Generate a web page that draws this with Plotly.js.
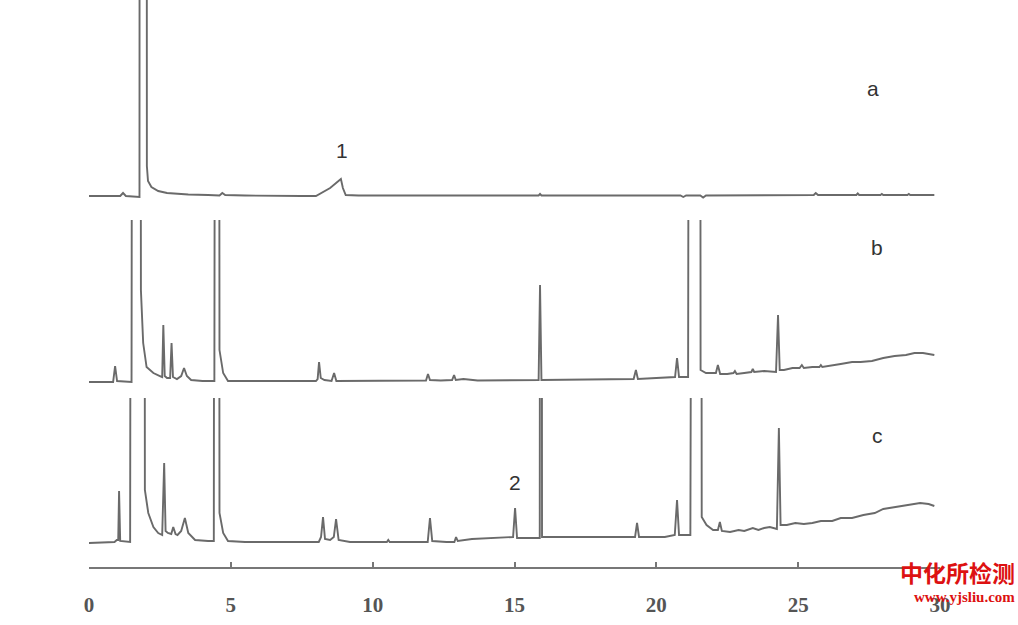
<!DOCTYPE html>
<html>
<head>
<meta charset="utf-8">
<script src="https://cdn.plot.ly/plotly-3.0.1.min.js"></script>
<style>
  html, body { margin: 0; padding: 0; background: #ffffff; }
  #chart { width: 1018px; height: 625px; }
</style>
</head>
<body>
<div id="chart"></div>
<script>
// ---- Data (time in min, detector signal) ----
// Trace a
const timeA = [0, 1.1, 1.2, 1.3, 1.78, 1.80, 1.9, 2.02, 2.04, 2.08, 2.2, 2.44, 2.75, 3.5, 4.2, 4.6, 4.7, 4.8, 5.5, 6.5, 7.5, 8.0, 8.5, 8.88, 8.95, 9.05, 9.5, 12, 15.85, 15.9, 15.95, 18, 20.85, 20.95, 21.05, 21.55, 21.65, 21.75, 24, 25.55, 25.62, 25.7, 27.05, 27.1, 27.15, 27.9, 27.95, 28.0, 28.85, 28.9, 28.95, 29.8];
const signalA = [0, 0, 3, 0, -1, 2000, 2500, 2000, 30, 15, 9, 5, 3, 1.5, 1, 0.5, 3, 1, 0.5, 0, 0, 0, 8, 17, 8, 1, 0.5, 0.5, 0.5, 2, 0.5, 0.5, 0.5, -1, 0.5, 0.5, -1.5, 0.5, 1, 1, 3, 1, 1, 2.5, 1, 1, 2, 1, 1, 2, 1, 1];

// Trace b
const timeB = [0, 0.85, 0.92, 0.99, 1.5, 1.56, 1.68, 1.79, 1.83, 1.91, 2.03, 2.27, 2.5, 2.58, 2.62, 2.67, 2.75, 2.86, 2.91, 2.96, 3.1, 3.25, 3.35, 3.45, 3.6, 4.0, 4.42, 4.47, 4.51, 4.56, 4.6, 4.73, 4.9, 5.5, 8.0, 8.06, 8.11, 8.17, 8.3, 8.55, 8.64, 8.72, 9.5, 11.88, 11.95, 12.02, 12.4, 12.8, 12.87, 12.93, 13.2, 13.7, 15.85, 15.9, 15.95, 18.0, 19.2, 19.28, 19.35, 20.0, 20.66, 20.73, 20.8, 21.12, 21.2, 21.36, 21.52, 21.56, 21.75, 22.0, 22.1, 22.17, 22.25, 22.5, 22.72, 22.77, 22.83, 23.1, 23.35, 23.4, 23.45, 23.8, 24.22, 24.29, 24.35, 24.5, 24.8, 25.05, 25.13, 25.2, 25.5, 25.75, 25.8, 25.85, 26.2, 26.5, 26.9, 27.2, 27.6, 28.0, 28.4, 28.8, 29.1, 29.4, 29.8];
const signalB = [0, 0, 16, 1, 0, 1500, 2000, 1500, 92, 39, 15, 9, 6, 5, 57, 6, 4, 4, 39, 5, 3, 6, 14, 6, 2, 1, 1, 1500, 2000, 1500, 32, 9, 1, 1, 1, 3, 20, 4, 2, 1, 9, 1, 1, 1.5, 8, 2, 1.5, 2, 7, 2, 3, 1.5, 2, 97, 2, 3, 3, 12, 3, 4, 5, 24, 5, 5, 1500, 2000, 1500, 12, 9, 9, 9, 17, 8, 8, 9, 11, 8, 9, 10, 13, 10, 11, 10, 67, 12, 12, 14, 14, 17, 14, 15, 15, 17, 15, 17, 18, 20, 20, 21, 24, 26, 27, 29, 29, 27];

// Trace c
const timeC = [0, 0.9, 0.98, 1.03, 1.06, 1.1, 1.45, 1.52, 1.72, 1.93, 1.97, 2.09, 2.27, 2.44, 2.58, 2.65, 2.7, 2.78, 2.9, 2.97, 3.05, 3.12, 3.25, 3.38, 3.5, 3.74, 4.2, 4.4, 4.45, 4.5, 4.56, 4.6, 4.73, 4.9, 5.5, 8.1, 8.18, 8.25, 8.32, 8.5, 8.63, 8.71, 8.8, 9.2, 10.5, 10.55, 10.6, 11.94, 12.02, 12.1, 12.6, 12.88, 12.94, 13.0, 13.5, 14.5, 14.95, 15.02, 15.09, 15.4, 15.89, 15.93, 15.97, 17.0, 18.0, 19.25, 19.32, 19.39, 20.3, 20.65, 20.73, 20.8, 21.2, 21.29, 21.43, 21.57, 21.6, 21.77, 22.0, 22.17, 22.24, 22.31, 22.6, 22.9, 23.1, 23.4, 23.6, 23.8, 24.0, 24.25, 24.32, 24.38, 24.6, 24.9, 25.2, 25.5, 25.8, 26.2, 26.5, 26.9, 27.3, 27.7, 28.0, 28.4, 28.8, 29.1, 29.3, 29.6, 29.8];
const signalC = [0, 1, 3, 3, 52, 2, 1, 1500, 2000, 1500, 53, 30, 16, 10, 8, 80, 12, 10, 9, 16, 9, 8, 12, 25, 10, 3, 2, 2, 1500, 2000, 1500, 30, 10, 2, 1, 1, 6, 26, 4, 3, 6, 24, 3, 1, 1, 3, 1, 1, 25, 2, 1, 1, 6, 2, 4, 5, 6, 35, 5, 5, 5, 2000, 6, 6, 6, 6, 20, 6, 6, 8, 43, 8, 8, 1000, 1500, 1000, 26, 18, 13, 13, 21, 12, 11, 13, 12, 15, 13, 15, 16, 14, 115, 18, 18, 20, 19, 20, 22, 22, 25, 25, 28, 30, 34, 36, 38, 39, 40, 39, 37];

const xTicks = [0, 5, 10, 15, 20, 25, 30];
const xTickText = ['0', '5', '10', '15', '20', '25', '30'];
const traceLabels = ['a', 'b', 'c'];
const peakLabels = ['1', '2'];
const peakTimes = [8.92, 15.02];

// ---- Plot ----
const lineStyle = { color: '#6a6a6a', width: 1.9 };
const traces = [
  { x: timeA, y: signalA, xaxis: 'x', yaxis: 'y3', mode: 'lines', line: lineStyle, hoverinfo: 'skip' },
  { x: timeB, y: signalB, xaxis: 'x', yaxis: 'y2', mode: 'lines', line: lineStyle, hoverinfo: 'skip' },
  { x: timeC, y: signalC, xaxis: 'x', yaxis: 'y',  mode: 'lines', line: lineStyle, hoverinfo: 'skip' }
];

const hiddenY = { visible: false, fixedrange: true };
const labelFont = { family: 'Liberation Sans, Arial, sans-serif', size: 21, color: '#333333' };

const layout = {
  width: 1018, height: 625,
  margin: { l: 89, r: 78, t: 0, b: 58 },
  paper_bgcolor: '#ffffff', plot_bgcolor: '#ffffff',
  showlegend: false,
  xaxis: {
    range: [0, 30], anchor: 'y',
    showgrid: false, zeroline: false,
    showline: true, linecolor: '#777777', linewidth: 2,
    ticks: 'inside', ticklen: 5, tickwidth: 2, tickcolor: '#777777',
    tickvals: xTicks, ticktext: xTickText,
    ticklabelstandoff: 18,
    tickfont: { family: 'Liberation Serif, serif', size: 21, color: '#555555', weight: 'bold' }
  },
  yaxis:  Object.assign({ domain: [0, 0.298], range: [-24, 145] }, hiddenY),
  yaxis2: Object.assign({ domain: [0.298, 0.612], range: [-16, 162] }, hiddenY),
  yaxis3: Object.assign({ domain: [0.612, 1], range: [-24, 196] }, hiddenY),
  annotations: [
    { text: traceLabels[0], x: 27.63, y: 108, xref: 'x', yref: 'y3', showarrow: false, font: labelFont },
    { text: traceLabels[1], x: 27.78, y: 135, xref: 'x', yref: 'y2', showarrow: false, font: labelFont },
    { text: traceLabels[2], x: 27.78, y: 108, xref: 'x', yref: 'y',  showarrow: false, font: labelFont },
    { text: peakLabels[0], x: peakTimes[0], y: 46, xref: 'x', yref: 'y3', showarrow: false, font: labelFont },
    { text: peakLabels[1], x: peakTimes[1], y: 61, xref: 'x', yref: 'y',  showarrow: false, font: labelFont },
    { text: '中化所检测', x: 1.0905, y: -0.009, xref: 'paper', yref: 'paper', xanchor: 'right', yanchor: 'middle', showarrow: false,
      font: { family: 'Noto Sans CJK SC, sans-serif', size: 23, color: '#dd1111', weight: 'bold' } },
    { text: 'www.yjsliu.com', x: 1.0905, y: -0.053, xref: 'paper', yref: 'paper', xanchor: 'right', yanchor: 'middle', showarrow: false,
      font: { family: 'Liberation Serif, serif', size: 15, color: '#dd1111', weight: 'bold' } }
  ]
};

Plotly.newPlot('chart', traces, layout, { staticPlot: true, displayModeBar: false });
</script>
</body>
</html>
